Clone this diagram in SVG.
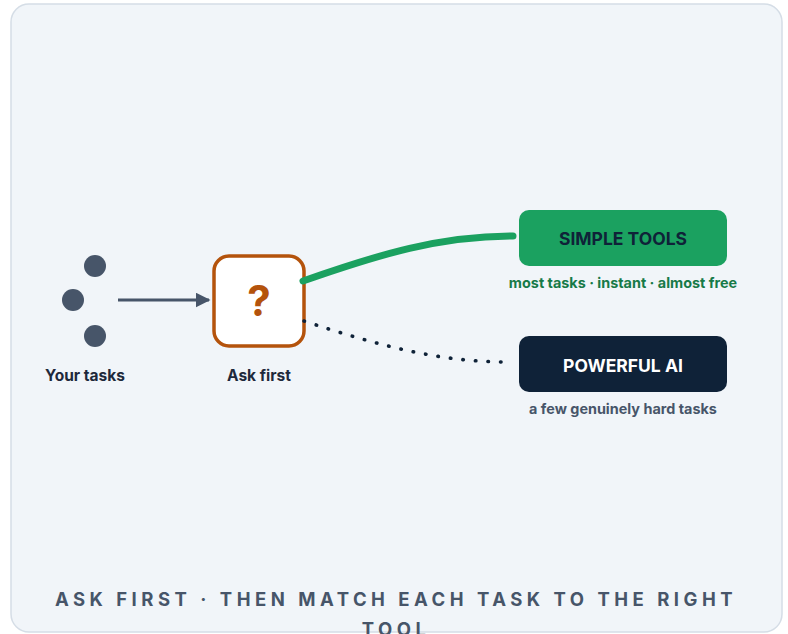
<svg xmlns="http://www.w3.org/2000/svg" width="788" height="634" viewBox="0 0 788 634">
<defs>
<style>
text{font-family:Inter,"Liberation Sans",sans-serif;font-weight:700;text-anchor:middle}
.lbl{font-size:15.5px;fill:#1e293b}
.dot{fill:#475569}
.sub{font-size:14.4px}
</style>
<marker id="arr" viewBox="0 0 10 10" refX="9" refY="5" markerWidth="5" markerHeight="5" orient="auto" markerUnits="strokeWidth"><path d="M0,0 L10,5 L0,10 z" fill="#475569"/></marker>
</defs>
<rect x="11" y="4" width="771" height="628" rx="18" fill="#f1f5f9" stroke="#d5dde6" stroke-width="1.5"/>
<g id="tasks">
<circle class="dot" cx="95" cy="266" r="11"/>
<circle class="dot" cx="73" cy="300" r="11"/>
<circle class="dot" cx="95" cy="336" r="11"/>
<text class="lbl" x="85" y="381">Your tasks</text>
</g>
<g id="ask">
<rect x="214" y="256" width="90" height="90" rx="15" fill="#ffffff" stroke="#b4530c" stroke-width="3.5"/>
<text x="259" y="316" font-size="42" fill="#b4530c" font-weight="800">?</text>
<text class="lbl" x="259" y="381">Ask first</text>
</g>
<g id="simple">
<rect x="519" y="210" width="208" height="56" rx="10" fill="#1ba160"/>
<text x="623" y="245" font-size="17.5" fill="#0f2238">SIMPLE TOOLS</text>
<text class="sub" x="623" y="288" fill="#177a48">most tasks · instant · almost free</text>
</g>
<g id="powerful">
<rect x="519" y="336" width="208" height="56" rx="10" fill="#0f2238"/>
<text x="623" y="371.5" font-size="17.5" fill="#ffffff">POWERFUL AI</text>
<text class="sub" x="623" y="414" fill="#475569" font-weight="600">a few genuinely hard tasks</text>
</g>
<g id="connectors">
<line x1="118" y1="300" x2="209" y2="300" stroke="#475569" stroke-width="3" marker-end="url(#arr)"/>
<path d="M303,281 C380,254 440,236 513,236" fill="none" stroke="#1ba160" stroke-width="7" stroke-linecap="round"/>
<path d="M304,321 C380,346 440,362 508,362" fill="none" stroke="#0f2238" stroke-width="3.6" stroke-linecap="round" stroke-dasharray="0.5 12.1"/>
</g>
<g id="caption">
<text x="396" y="606" font-size="18.5" fill="#475569" letter-spacing="4.5">ASK FIRST · THEN MATCH EACH TASK TO THE RIGHT</text>
<text x="396" y="636" font-size="18.5" fill="#475569" letter-spacing="4.5">TOOL</text>
</g>
</svg>
